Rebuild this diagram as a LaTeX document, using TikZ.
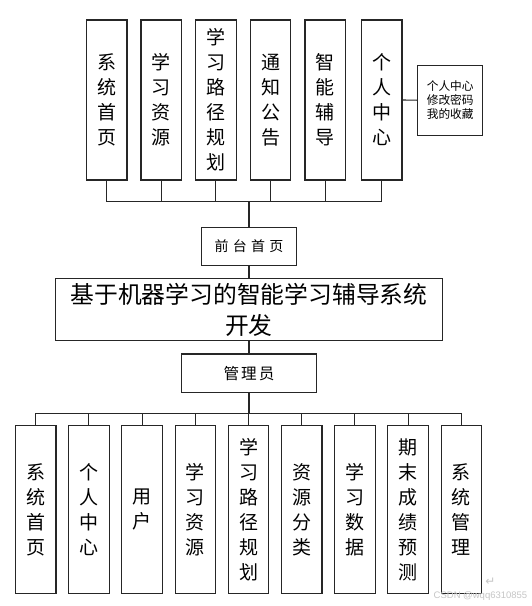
\documentclass[tikz,border=0pt]{standalone}
\usepackage{fontspec}
\newfontfamily\cjk{Noto Sans CJK SC}
\newfontfamily\wmfont{Liberation Sans}
\newfontfamily\symfont{DejaVu Sans}
\begin{document}
\begin{tikzpicture}[x=1pt,y=-1pt,
  vbox/.style={draw=black!85, line width=1.1pt, inner sep=0pt, minimum width=40.5pt, align=center, font=\cjk\fontsize{19}{25}\selectfont},
  hbox/.style={draw=black!85, line width=1.1pt, inner sep=0pt, align=center},
  bus/.style={draw=black!85, line width=1.5pt},
  stub/.style={draw=black!85, line width=1.1pt},
  wm/.style={text=gray!45, inner sep=0pt}
]
\useasboundingbox (0,0) rectangle (531,606);
\fill[white] (0,0) rectangle (531,606);

% top boxes
\node[vbox, minimum height=160pt] (p1) at (106.7,100) {系\\统\\首\\页};
\node[vbox, minimum height=160pt] (p2) at (161.2,100) {学\\习\\资\\源};
\node[vbox, minimum height=160pt] (p3) at (215.8,100) {学\\习\\路\\径\\规\\划};
\node[vbox, minimum height=160pt] (p4) at (270.5,100) {通\\知\\公\\告};
\node[vbox, minimum height=160pt] (p5) at (325.2,100) {智\\能\\辅\\导};
\node[vbox, minimum height=160pt] (p6) at (381.7,100) {个\\人\\中\\心};
\node[hbox, minimum width=65pt, minimum height=70pt, font=\cjk\fontsize{11.7}{14}\selectfont] (pc) at (450.2,100.2) {个人中心\\修改密码\\我的收藏};
\draw[stub] (p6.east) -- (pc.west);

\coordinate (bt) at (249,201.7);
\foreach \i in {1,...,6} {\draw[stub] (p\i.south) -- (p\i.south |- bt);}
\draw[bus] (p1.south |- bt) -- (p6.south |- bt);

% middle
\node[hbox, minimum width=95pt, minimum height=38.4pt, font=\cjk\fontsize{14}{16}\selectfont] (qt) at (249,246.5) {前\kern4.3pt 台\kern4.3pt 首\kern4.3pt 页};
\node[hbox, minimum width=387.7pt, minimum height=62.4pt, font=\cjk\fontsize{23.8}{31}\selectfont] (main) at (249,309.5) {基于机器学习的智能学习辅导系统\\开发};
\node[hbox, minimum width=134.7pt, minimum height=38.7pt, font=\cjk\fontsize{15.6}{18}\selectfont] (adm) at (249,373.3) {管\kern2pt 理\kern2pt 员};
\draw[bus] (bt) -- (qt.north);
\draw[stub] (qt.south) -- (main.north);
\draw[stub] (main.south) -- (adm.north);

% bottom boxes
\node[vbox, minimum height=167.6pt] (b1) at (35.7,509.5) {系\\统\\首\\页};
\node[vbox, minimum height=167.6pt] (b2) at (88.9,509.5) {个\\人\\中\\心};
\node[vbox, minimum height=167.6pt] (b3) at (142.1,509.5) {用\\户};
\node[vbox, minimum height=167.6pt] (b4) at (195.3,509.5) {学\\习\\资\\源};
\node[vbox, minimum height=167.6pt] (b5) at (248.5,509.5) {学\\习\\路\\径\\规\\划};
\node[vbox, minimum height=167.6pt] (b6) at (301.7,509.5) {资\\源\\分\\类};
\node[vbox, minimum height=167.6pt] (b7) at (354.9,509.5) {学\\习\\数\\据};
\node[vbox, minimum height=167.6pt] (b8) at (408.1,509.5) {期\\末\\成\\绩\\预\\测};
\node[vbox, minimum height=167.6pt] (b9) at (461.3,509.5) {系\\统\\管\\理};

\coordinate (bb) at (249,413.3);
\draw[bus] (adm.south) -- (bb);
\foreach \i in {1,...,9} {\draw[stub] (b\i.north) -- (b\i.north |- bb);}
\draw[bus] (b1.north |- bb) -- (b9.north |- bb);

% watermark
\node[wm, font=\symfont\fontsize{12}{12}\selectfont] (ret) at (490.5,582) {↵};
\node[wm, font=\wmfont\fontsize{9.5}{10}\selectfont] (wmk) at (480.5,596.5) {CSDN @wqq6310855};
\end{tikzpicture}
\end{document}
